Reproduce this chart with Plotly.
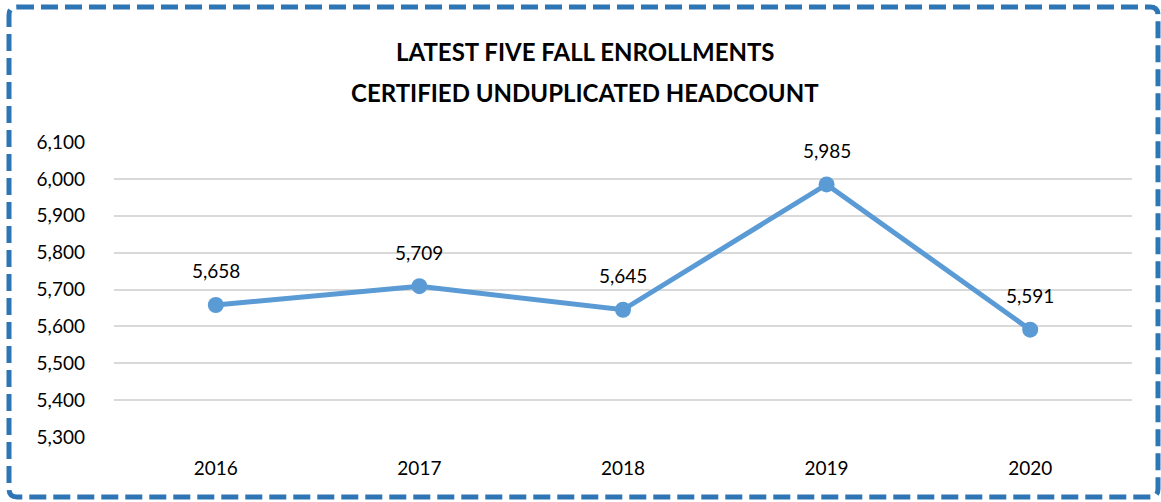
import plotly.graph_objects as go

years = ["2016", "2017", "2018", "2019", "2020"]
headcount = [5658, 5709, 5645, 5985, 5591]
title_lines = ["LATEST FIVE FALL ENROLLMENTS", "CERTIFIED UNDUPLICATED HEADCOUNT"]

W, H = 1161, 502
L, R, T, B = 114, 29, 142, 65
pw, ph = W - L - R, H - T - B


def px_x(x):
    return (x - L) / pw


def px_y(y):
    return (H - B - y) / ph


line_color = "#5B9BD5"
font_name = "Lato, Calibri, Liberation Sans, sans-serif"

fig = go.Figure()
fig.add_trace(go.Scatter(
    x=years, y=headcount,
    mode="lines+markers",
    line=dict(color=line_color, width=5),
    marker=dict(color=line_color, size=16),
    hoverinfo="x+y",
))

# value labels above each point (category axis -> use index positions)
for i, v in enumerate(headcount):
    fig.add_annotation(x=i, y=v, text=f"{v:,}", showarrow=False, yshift=34,
                       font=dict(size=19, color="#000000", family=font_name))

for i, t in enumerate(title_lines):
    fig.add_annotation(xref="paper", yref="paper", x=px_x(585), y=px_y(52 + 40 * i),
                       yanchor="middle", xanchor="center",
                       text=f"<b>{t}</b>", showarrow=False,
                       font=dict(size=24, color="#000000", family=font_name))

# dashed rounded border around the whole chart
x0, x1, y0, y1, r = 9, 1158, 7, 497, 8
path = (f"M {px_x(x0 + r)},{px_y(y0)} L {px_x(x1 - r)},{px_y(y0)} "
        f"Q {px_x(x1)},{px_y(y0)} {px_x(x1)},{px_y(y0 + r)} "
        f"L {px_x(x1)},{px_y(y1 - r)} Q {px_x(x1)},{px_y(y1)} {px_x(x1 - r)},{px_y(y1)} "
        f"L {px_x(x0 + r)},{px_y(y1)} Q {px_x(x0)},{px_y(y1)} {px_x(x0)},{px_y(y1 - r)} "
        f"L {px_x(x0)},{px_y(y0 + r)} Q {px_x(x0)},{px_y(y0)} {px_x(x0 + r)},{px_y(y0)} Z")
fig.add_shape(type="path", xref="paper", yref="paper", path=path,
              line=dict(color="#2E75B6", width=5, dash="17px,7px"))

fig.update_layout(
    width=W, height=H,
    margin=dict(l=L, r=R, t=T, b=B),
    paper_bgcolor="white", plot_bgcolor="white",
    showlegend=False,
    font=dict(family=font_name, size=19, color="#000000"),
    xaxis=dict(type="category", range=[-0.5, 4.5], showgrid=False, showline=False,
               ticks="", ticklabelstandoff=18, tickfont=dict(size=19)),
    yaxis=dict(range=[5300, 6100], dtick=100, tickformat=",", showgrid=True,
               gridcolor="#D9D9D9", gridwidth=1.5, zeroline=False, showline=False,
               ticks="", ticklabelstandoff=28, tickfont=dict(size=19)),
)

# drop the default page margin so the chart sits at the window's top-left corner
fig.write_html("out.html", config={"displayModeBar": False},
               post_script="document.body.style.margin='0';")
